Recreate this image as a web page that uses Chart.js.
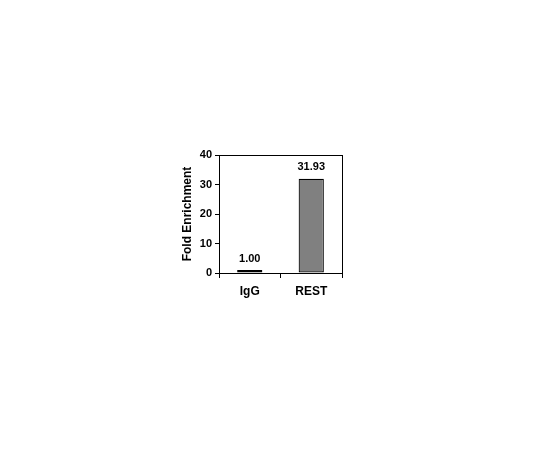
<!DOCTYPE html>
<html><head><meta charset="utf-8">
<script src="https://cdn.jsdelivr.net/npm/chart.js@4"></script>
<style>html,body{margin:0;padding:0;background:#fff}#c{display:block}</style>
</head><body>
<canvas id="c" width="540" height="450"></canvas>
<script>
const categories = ["IgG", "REST"];
const foldEnrichment = [1.00, 31.93];
const yTicks = [0, 10, 20, 30, 40];

const frame = {
  id: 'frame',
  afterDatasetsDraw(chart) {
    const {ctx, chartArea: a} = chart;
    ctx.save();
    ctx.strokeStyle = '#000';
    ctx.lineWidth = 1;
    ctx.strokeRect(a.left + 0.5, a.top + 0.5, a.right - a.left, a.bottom - a.top);
    ctx.restore();
  }
};
const labels = {
  id: 'labels',
  afterDatasetsDraw(chart) {
    const {ctx} = chart;
    const meta = chart.getDatasetMeta(0);
    ctx.save();
    ctx.font = 'bold 11px "Liberation Sans", Arial, sans-serif';
    ctx.fillStyle = '#000';
    ctx.textAlign = 'center';
    ctx.textBaseline = 'bottom';
    meta.data.forEach((bar, i) => {
      ctx.fillText(foldEnrichment[i].toFixed(2), bar.x, bar.y - 6);
    });
    ctx.restore();
  }
};

new Chart(document.getElementById('c'), {
  type: 'bar',
  data: {
    labels: categories,
    datasets: [{
      data: foldEnrichment,
      backgroundColor: '#808080',
      borderColor: '#000',
      borderWidth: 1.2,
      borderSkipped: false,
      categoryPercentage: 1,
      barPercentage: 0.41
    }]
  },
  options: {
    responsive: false,
    animation: false,
    devicePixelRatio: 1,
    layout: {padding: {left: 180, right: 198, top: 155, bottom: 137}},
    plugins: {legend: {display: false}, tooltip: {enabled: false}},
    scales: {
      x: {
        afterFit(s) { s.height = 40; },
        grid: {display: true, drawOnChartArea: false, offset: true, tickLength: 5, color: '#000'},
        border: {color: '#000'},
        ticks: {color: '#000', padding: 6, font: {family: '"Liberation Sans", Arial, sans-serif', size: 12, weight: 'bold'}}
      },
      y: {
        min: 0, max: 40,
        afterFit(s) { s.width = 39; },
        afterBuildTicks(s) { s.ticks = yTicks.map(v => ({value: v})); },
        grid: {display: true, drawOnChartArea: false, tickLength: 4, color: '#000'},
        border: {color: '#000'},
        ticks: {color: '#000', padding: 3, font: {family: '"Liberation Sans", Arial, sans-serif', size: 11, weight: 'bold'}},
        title: {display: true, text: 'Fold Enrichment', color: '#000', padding: {top: 0, bottom: 4},
          font: {family: '"Liberation Sans", Arial, sans-serif', size: 12, weight: 'bold'}}
      }
    }
  },
  plugins: [frame, labels]
});
</script>
</body></html>
